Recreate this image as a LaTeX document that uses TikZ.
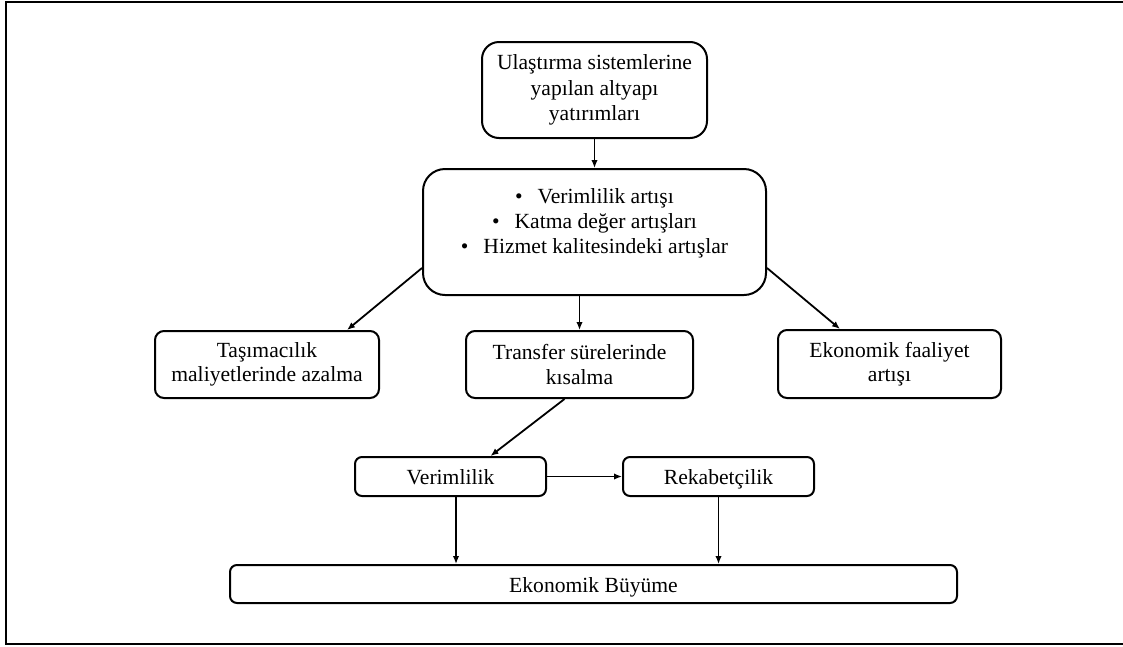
\documentclass[tikz,border=0pt]{standalone}
\usepackage{fontspec}
\setmainfont{Liberation Serif}
\usetikzlibrary{arrows.meta}

\tikzset{
  box/.style={draw, line width=2pt, align=center, inner sep=0pt,
    font=\fontsize{21.6}{24.5}\selectfont},
  bigbox/.style={box, rounded corners=17pt},
  smallbox/.style={box, rounded corners=9pt},
  thinbox/.style={box, rounded corners=7pt, text height=16pt, text depth=0pt},
  link/.style={line width=1.8pt, -{Latex[length=8pt,width=6.5pt]}},
  frame/.style={line width=2.2pt}
}

\begin{document}
\begin{tikzpicture}[x=1pt,y=-1pt]
\useasboundingbox (0,0) rectangle (1123,646);

% outer frame
\coordinate (ftr) at (1135,2);
\coordinate (ftl) at (6,2);
\coordinate (fbl) at (6,644);
\coordinate (fbr) at (1135,644);
\draw[frame] (ftr) -- (ftl) -- (fbl) -- (fbr);

% boxes
\node[bigbox, minimum width=225pt, minimum height=96pt,
      font=\fontsize{21.6}{25.5}\selectfont] (top) at (594.5,90)
  {Ulaştırma sistemlerine\\yapılan altyapı\\yatırımları};

\node[bigbox, rounded corners=22pt, minimum width=343pt, minimum height=126pt] (mid) at (594.5,232) {};
\node[align=center, inner sep=0pt, font=\fontsize{21.6}{25}\selectfont]
  (midtext) at ([yshift=9pt]mid.center)
  {\textbullet\hspace{15pt}Verimlilik artışı\\
   \textbullet\hspace{15pt}Katma değer artışları\\
   \textbullet\hspace{15pt}Hizmet kalitesindeki artışlar};

\node[smallbox, minimum width=224pt, minimum height=67pt] (tas) at (267,364.5)
  {Taşımacılık\\maliyetlerinde azalma};
\node[smallbox, minimum width=227pt, minimum height=67pt] (transfer) at (579.5,364.5)
  {Transfer sürelerinde\\kısalma};
\node[smallbox, minimum width=223pt, minimum height=68pt] (faal) at (889.5,364)
  {Ekonomik faaliyet\\artışı};

\node[thinbox, minimum width=191pt, minimum height=39pt] (verim) at (450.5,476.5) {Verimlilik};
\node[thinbox, minimum width=191pt, minimum height=39pt] (rekab) at (718.5,476.5) {Rekabetçilik};

\node[thinbox, minimum width=727pt, minimum height=38pt] (buyume) at (593.5,584) {Ekonomik Büyüme};

% connectors
\draw[link] (top.south) -- (mid.north);
\draw[link] ([yshift=-36pt]mid.west) -- ([xshift=80pt]tas.north);
\draw[link] (mid.south -| transfer.north) -- (transfer.north);
\draw[link] ([yshift=-36pt]mid.east) -- ([xshift=-49.5pt]faal.north);
\draw[link] ([xshift=-15pt]transfer.south) -- ([xshift=40pt]verim.north);
\draw[link] (verim.east) -- (rekab.west);
\draw[link] ([xshift=5.5pt]verim.south) -- ([xshift=5.5pt]verim.south |- buyume.north);
\draw[link] (rekab.south) -- (rekab.south |- buyume.north);
\end{tikzpicture}
\end{document}
